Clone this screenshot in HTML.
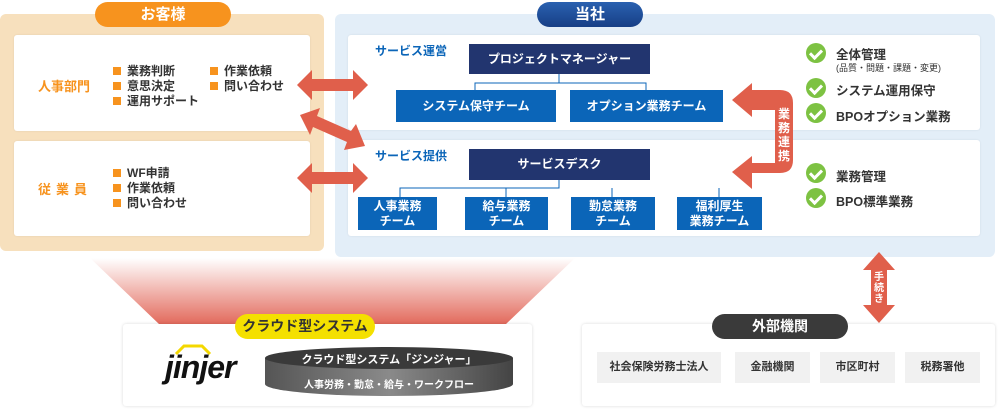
<!DOCTYPE html>
<html><head><meta charset="utf-8"><style>
*{margin:0;padding:0;box-sizing:border-box}
body{width:1000px;height:411px;background:#fff;position:relative;overflow:hidden;font-family:"Liberation Sans","Noto Sans CJK JP",sans-serif;}
.a{position:absolute}
.pill{position:absolute;border-radius:14px;color:#fff;font-weight:bold;font-size:15px;text-align:center;line-height:25px}
.wb{position:absolute;background:#fff;border-radius:3px;box-shadow:0 0 2px rgba(0,0,0,.08)}
.nv{position:absolute;background:#22356f;color:#fff;font-size:12px;font-weight:bold;text-align:center;line-height:30px}
.bl{position:absolute;background:#0b65b8;color:#fff;font-size:12px;font-weight:bold;text-align:center}
.lbl{position:absolute;color:#0b65b8;font-size:12px;font-weight:bold}
.li{position:absolute;font-size:12px;color:#333;font-weight:bold;line-height:15px}
.li i{display:inline-block;width:8px;height:8px;background:#f7931e;margin-right:6px;vertical-align:0px}
.ck{position:absolute;width:20px;height:20px;border-radius:50%;background:#7dc242}
.ck:after{content:"";position:absolute;left:6px;top:4px;width:5px;height:9px;border:solid #fff;border-width:0 3px 3px 0;transform:rotate(45deg)}
.ct{position:absolute;font-size:12.5px;color:#333;font-weight:bold}
.gb{position:absolute;background:#f1f1f1;font-size:11px;color:#333;text-align:center;line-height:31px;font-weight:bold}
</style></head><body>
<div class="a" style="left:0;top:14px;width:324px;height:237px;background:#f7e0bd;border-radius:6px"></div>
<div class="a" style="left:335px;top:14px;width:660px;height:243px;background:#e3eef8;border-radius:6px"></div>
<div class="pill" style="left:95px;top:2px;width:136px;background:#f7931e">お客様</div>
<div class="pill" style="left:537px;top:2px;width:106px;background:linear-gradient(#2a61b0,#173f86)">当社</div>
<div class="wb" style="left:14px;top:35px;width:296px;height:96px"></div>
<div class="wb" style="left:14px;top:141px;width:296px;height:95px"></div>
<div class="a" style="left:38px;top:76px;color:#f7931e;font-size:13px;font-weight:bold">人事部門</div>
<div class="a" style="left:38px;top:179px;color:#f7931e;font-size:13px;font-weight:bold;letter-spacing:5px">従業員</div>
<div class="li" style="left:113px;top:64px"><i></i>業務判断<br><i></i>意思決定<br><i></i>運用サポート</div>
<div class="li" style="left:210px;top:64px"><i></i>作業依頼<br><i></i>問い合わせ</div>
<div class="li" style="left:113px;top:166px"><i></i>WF申請<br><i></i>作業依頼<br><i></i>問い合わせ</div>

<div class="wb" style="left:348px;top:35px;width:632px;height:95px"></div>
<div class="wb" style="left:348px;top:140px;width:632px;height:96px"></div>
<div class="lbl" style="left:375px;top:42px">サービス運営</div>
<div class="lbl" style="left:375px;top:147px">サービス提供</div>
<svg class="a" style="left:0;top:0" width="1000" height="411">
<g stroke="#0b65b8" stroke-width="1" fill="none">
<path d="M559 74V83H475V90M559 83H646V90"/>
<path d="M559 180V188H400V197M506 188V197M612 188V197M719 188V197"/>
</g>
<g fill="#e05f4b">
<path d="M297 85L312 70V79H353V70L368 85L353 100V91H312V100Z"/>
<path d="M297 178L312 163V172H353V163L368 178L353 193V184H312V193Z"/>
<path d="M300 115L320 108L317 116L351 131L356 124L365 146L344 150L347 142L313 127L310 135Z"/>
<path d="M732 100L752 83V90H780Q793 90 793 103V160Q793 173 780 173H752V189L732 172L752 156V163H775V110H752V117Z"/>
<path d="M879 252L895 270H887V305H895L879 323L863 305H871V270H863Z"/>
</g>
<text x="784" y="118" fill="#fff" font-size="12" font-weight="bold" text-anchor="middle" font-family="Liberation Sans,Noto Sans CJK JP,sans-serif">業</text>
<text x="784" y="132" fill="#fff" font-size="12" font-weight="bold" text-anchor="middle" font-family="Liberation Sans,Noto Sans CJK JP,sans-serif">務</text>
<text x="784" y="146" fill="#fff" font-size="12" font-weight="bold" text-anchor="middle" font-family="Liberation Sans,Noto Sans CJK JP,sans-serif">連</text>
<text x="784" y="160" fill="#fff" font-size="12" font-weight="bold" text-anchor="middle" font-family="Liberation Sans,Noto Sans CJK JP,sans-serif">携</text>
<text x="879" y="280" fill="#fff" font-size="10" font-weight="bold" text-anchor="middle" font-family="Liberation Sans,Noto Sans CJK JP,sans-serif">手</text>
<text x="879" y="291" fill="#fff" font-size="10" font-weight="bold" text-anchor="middle" font-family="Liberation Sans,Noto Sans CJK JP,sans-serif">続</text>
<text x="879" y="302" fill="#fff" font-size="10" font-weight="bold" text-anchor="middle" font-family="Liberation Sans,Noto Sans CJK JP,sans-serif">き</text>
<defs><linearGradient id="tr" x1="0" y1="0" x2="0" y2="1"><stop offset="0" stop-color="#fff"/><stop offset="1" stop-color="#e2685a"/></linearGradient></defs>
<path d="M90 258H575L505 325H160Z" fill="url(#tr)"/>
</svg>
<div class="nv" style="left:469px;top:44px;width:181px">プロジェクトマネージャー</div>
<div class="bl" style="left:396px;top:90px;width:160px;height:32px;line-height:32px">システム保守チーム</div>
<div class="bl" style="left:570px;top:90px;width:153px;height:32px;line-height:32px">オプション業務チーム</div>
<div class="nv" style="left:469px;top:149px;width:181px;height:31px">サービスデスク</div>
<div class="bl" style="left:358px;top:197px;width:79px;height:33px;line-height:15px;padding-top:2px">人事業務<br>チーム</div>
<div class="bl" style="left:465px;top:197px;width:83px;height:33px;line-height:15px;padding-top:2px">給与業務<br>チーム</div>
<div class="bl" style="left:571px;top:197px;width:84px;height:33px;line-height:15px;padding-top:2px">勤怠業務<br>チーム</div>
<div class="bl" style="left:677px;top:197px;width:85px;height:33px;line-height:15px;padding-top:2px">福利厚生<br>業務チーム</div>

<div class="ck" style="left:806px;top:43px"></div><div class="ct" style="left:836px;top:44px">全体管理</div>
<div class="a" style="left:836px;top:61px;font-size:9px;color:#333">(品質・問題・課題・変更)</div>
<div class="ck" style="left:806px;top:78px"></div><div class="ct" style="left:836px;top:80px">システム運用保守</div>
<div class="ck" style="left:806px;top:103px"></div><div class="ct" style="left:836px;top:106px">BPOオプション業務</div>
<div class="ck" style="left:806px;top:163px"></div><div class="ct" style="left:836px;top:166px">業務管理</div>
<div class="ck" style="left:806px;top:188px"></div><div class="ct" style="left:836px;top:191px">BPO標準業務</div>

<div class="wb" style="left:123px;top:324px;width:409px;height:82px;box-shadow:0 0 3px rgba(0,0,0,.15)"></div>
<div class="pill" style="left:235px;top:314px;width:140px;background:#f4e000;color:#333;font-size:14px">クラウド型システム</div>
<div class="a" style="left:165px;top:349px;font-size:32px;font-weight:bold;font-style:italic;color:#111;letter-spacing:-1px">jinjer</div>
<svg class="a" style="left:174px;top:343px" width="40" height="14"><path d="M2 11L10 3H28L36 11" stroke="#f4d800" stroke-width="3" fill="none"/></svg>
<svg class="a" style="left:264px;top:346px" width="250" height="52"><defs><linearGradient id="cy2" x1="0" x2="1"><stop offset="0" stop-color="#555"/><stop offset=".5" stop-color="#8a8a8a"/><stop offset="1" stop-color="#444"/></linearGradient></defs><path d="M1 12V38A124 12 0 0 0 249 38V12Z" fill="url(#cy2)"/><ellipse cx="125" cy="12" rx="124" ry="11" fill="#3a3a3a"/></svg>
<div class="a" style="left:265px;top:351px;width:248px;text-align:center;color:#fff;font-size:11px;font-weight:bold">クラウド型システム「ジンジャー」</div>
<div class="a" style="left:265px;top:376px;width:248px;text-align:center;color:#fff;font-size:10px;font-weight:bold">人事労務・勤怠・給与・ワークフロー</div>

<div class="wb" style="left:582px;top:324px;width:413px;height:82px;box-shadow:0 0 3px rgba(0,0,0,.15)"></div>
<div class="pill" style="left:712px;top:314px;width:136px;background:#3a3a3a;font-size:14px">外部機関</div>
<div class="gb" style="left:597px;top:352px;width:124px">社会保険労務士法人</div>
<div class="gb" style="left:735px;top:352px;width:75px">金融機関</div>
<div class="gb" style="left:820px;top:352px;width:75px">市区町村</div>
<div class="gb" style="left:905px;top:352px;width:75px">税務署他</div>
</body></html>
